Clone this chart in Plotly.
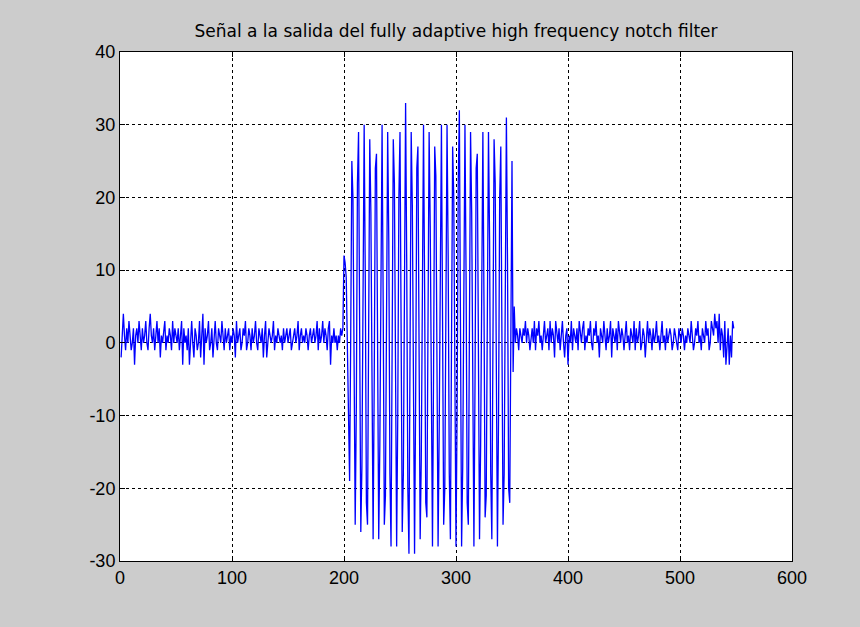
import plotly.graph_objects as go

# Pre-event noise, samples 1..198
noise_pre = [
    -2, 2, 4, 1, -1, 2, 0, 3, 1, -1,
    0, 2, -3, 1, 2, 0, 3, 1, -1, 2,
    0, 1, 3, 0, -1, 2, 4, 1, 0, 2,
    -1, 1, 3, 0, 2, -2, 1, 0, 2, 3,
    -1, 1, 0, 2, 1, -1, 3, 0, 2, 1,
    0, 2, -1, 1, 3, -3, 2, 0, 1, -1,
    2, -3, 1, 3, 0, -2, 2, 1, -1, 0,
    3, -2, 1, 4, -3, 2, 0, 1, 3, -1,
    0, 2, -2, 1, 3, 0, -1, 2, 1, 0,
    3, 1, -1, 2, 0, 1, 2, -1, 1, 0,
    2, 1, -2, 3, 0, 1, 2, -1, 0, 2,
    1, 3, -1, 0, 2, 1, -1, 2, 0, 1,
    3, 0, -1, 2, 1, 0, 2, -2, 1, 3,
    -2, 0, 2, 1, 0, 1, 3, -1, 1, 0,
    2, 1, 0, 1, -1, 2, 0, 1, 2, 0,
    1, 2, -1, 0, 1, 2, 0, 1, 3, -1,
    1, 2, 0, 1, 0, 2, 1, -1, 1, 2,
    0, 1, 2, 0, 1, 3, -1, 2, 0, 1,
    3, 0, 2, 1, -1, 2, 3, -3, 1, 0,
    2, 0, 1, -1, 1, 0, 2, 1,
]

# Oscillating burst, samples 199..350
burst = [
    2, 12, 11, 9, -3, -13, -19,
    1, 25, 20, -10, -25, -9, 22, 29, -1, -26,
    -17, 14, 30, 9, -22, -25, 5, 28, 18, -14,
    -27, -5, 24, 26, -5, -27, -14, 18, 30, 5,
    -25, -21, 9, 29, 14, -18, -28, -1, 28, 22,
    -9, -28, -10, 20, 29,
    1, -26, -18, 12, 33, 11, -20, -29, 3, 29,
    19, -12, -29, -7, 24, 27, -3, -27, -16, 16,
    30, 7, -22, -24, 7, 29, 16, -16, -28, -3,
    27, 23, -7, -28, -12, 19, 30, 3, -25, -20,
    11, 30, 12, -18, -27,
    1, 27, 20, -10, -28, -9, 22, 32, -1, -28,
    -17, 14, 30, 9, -22, -25, 5, 29, 18, -14,
    -28, -5, 24, 26, -5, -27, -14, 18, 29, 5,
    -24, -21, 9, 29, 14, -18, -27, -1, 28, 22,
    -9, -28, -10, 20, 27,
    1, -25, -18, 12, 31, 11, -20, -22, 8, 25,
]

# Post-event noise, samples 351..548
noise_post = [
    -4, 5, 0, 2, 1, -1, 2, 1, 0, 2,
    1, 3, 0, 2, 1, -1, 1, 2, 0, 3,
    -1, 2, 1, 3, 0, 1, -1, 2, 3, 0,
    1, 2, -1, 3, 0, 2, 1, -2, 3, 1,
    0, 2, -1, 1, 3, 0, -2, 1, 2, -3,
    1, 0, 3, -1, 2, 1, 0, 2, -1, 3,
    1, 0, 2, 3, -1, 1, 0, 2, 1, 3,
    0, -1, 2, 1, 3, 0, 1, -2, 2, 1,
    0, 3, 1, -1, 2, 0, 1, 3, -2, 2,
    1, 0, 2, -1, 3, 1, 0, 2, 1, -1,
    2, 3, 0, 1, -1, 2, 1, 0, 3, -1,
    2, 0, 1, 3, -1, 0, 2, 1, -2, 1,
    3, 0, 2, 1, -1, 2, 0, 1, 3, 0,
    1, -1, 2, 3, 0, 1, -1, 2, 0, 1,
    2, 1, -1, 0, 2, 1, 0, -1, 2, 1,
    0, 2, 1, -1, 1, 0, 2, 1, 0, 3,
    1, -1, 0, 2, 1, 3, 0, 1, -1, 2,
    1, 0, 3, 1, 2, -1, 0, 3, 2, 1,
    4, 2, 3, 0, 4, -1, 2, 1, -2, 3,
    -3, 0, 2, -3, 1, -2, 3, 2,
]

signal = noise_pre + burst + noise_post
samples = list(range(1, len(signal) + 1))

x_ticks = [0, 100, 200, 300, 400, 500, 600]
y_ticks = [-30, -20, -10, 0, 10, 20, 30, 40]
title_text = "Señal a la salida del fully adaptive high frequency notch filter"

fig = go.Figure()
fig.add_trace(go.Scatter(
    x=samples, y=signal, mode="lines",
    line=dict(color="rgb(0,0,255)", width=1.3),
    showlegend=False, hoverinfo="skip",
))

axis_common = dict(
    showline=True, linecolor="black", linewidth=1, mirror="allticks",
    ticks="inside", ticklen=5, tickcolor="black",
    showgrid=True, gridcolor="black", gridwidth=1, griddash="3px,3px",
    zeroline=False,
    tickfont=dict(family="Liberation Sans, Arial, sans-serif", size=18, color="black"),
)

fig.update_xaxes(range=[0, 600], tickvals=x_ticks, ticktext=[str(v) for v in x_ticks], **axis_common)
fig.update_yaxes(range=[-30, 40], tickvals=y_ticks, ticktext=[str(v) for v in y_ticks], **axis_common)

fig.update_layout(
    width=860, height=627,
    margin=dict(l=120, r=68, t=52, b=66),
    paper_bgcolor="rgb(204,204,204)",
    plot_bgcolor="white",
    title=dict(text=title_text, x=0.5, xref="paper", xanchor="center",
               y=1 - 31 / 627, yanchor="middle",
               font=dict(family="DejaVu Sans, sans-serif", size=17, color="black")),
)

fig.write_html("out.html")
